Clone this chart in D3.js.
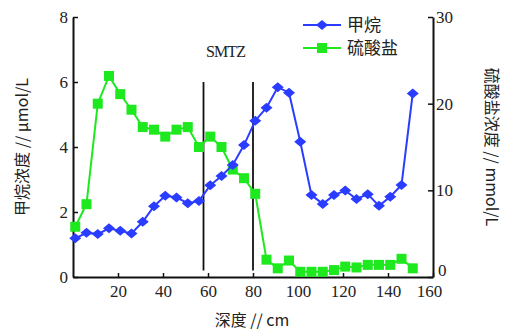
<!DOCTYPE html>
<html>
<head>
<meta charset="utf-8">
<script src="https://cdn.jsdelivr.net/npm/d3@7"></script>
<style>
  body { margin: 0; background: #fff; }
  text { font-family: "Liberation Serif", "Noto Sans CJK SC", serif; fill: #222; }
</style>
</head>
<body>
<div id="chart"></div>
<script>
// depth (cm)
const depth = [1, 6, 11, 16, 21, 26, 31, 36, 41, 46, 51, 56, 61, 66, 71, 76, 81, 86, 91, 96,
  101, 106, 111, 116, 121, 126, 131, 136, 141, 146, 151];
// methane, umol/L (left axis)
const methane = [1.19, 1.36, 1.32, 1.50, 1.42, 1.34, 1.70, 2.18, 2.50, 2.45, 2.27, 2.34, 2.82, 3.11,
  3.45, 4.06, 4.81, 5.21, 5.84, 5.67, 4.16, 2.52, 2.25, 2.52, 2.66, 2.40, 2.55, 2.19, 2.47, 2.83, 5.65];
// sulfate, mmol/L (right axis)
const sulfate = [5.8, 8.4, 20.0, 23.2, 21.1, 19.3, 17.3, 17.0, 16.2, 17.0, 17.3, 15.0, 16.2, 15.0,
  12.4, 11.4, 9.6, 2.0, 1.0, 1.9, 0.6, 0.6, 0.6, 0.8, 1.2, 1.1, 1.4, 1.4, 1.4, 2.1, 1.0];
const smtz = [58, 80];
const xTicks = [20, 40, 60, 80, 100, 120, 140, 160];
const leftTicks = [0, 2, 4, 6, 8];
const rightTicks = [0, 10, 20, 30];

const width = 507, height = 332;
const margin = {top: 17, right: 74, bottom: 55, left: 73};
const blue = "#2a3cff", green = "#1ee81e";

const svg = d3.select("#chart").append("svg")
  .attr("width", width).attr("height", height);

const x = d3.scaleLinear().domain([0, 160]).range([margin.left, width - margin.right]);
const yL = d3.scaleLinear().domain([0, 8]).range([height - margin.bottom, margin.top]);
const yR = d3.scaleLinear().domain([0, 30]).range([height - margin.bottom, margin.top]);

// axes
const gx = svg.append("g").attr("transform", `translate(0,${height - margin.bottom})`)
  .call(d3.axisBottom(x).tickValues(xTicks).tickSizeInner(-4).tickSizeOuter(0).tickPadding(8));
const gl = svg.append("g").attr("transform", `translate(${margin.left},0)`)
  .call(d3.axisLeft(yL).tickValues(leftTicks).tickSizeInner(-5).tickSizeOuter(0).tickPadding(4));
const gr = svg.append("g").attr("transform", `translate(${width - margin.right},0)`)
  .call(d3.axisRight(yR).tickValues(rightTicks).tickSizeInner(-5).tickSizeOuter(0).tickPadding(3));

[gx, gl, gr].forEach(g => {
  g.select(".domain").attr("stroke", "#111").attr("stroke-width", 2);
  g.selectAll(".tick line").attr("stroke", "#111").attr("stroke-width", 1.5);
  g.selectAll(".tick text").attr("font-size", 17).attr("fill", "#333")
    .style("font-family", "'Liberation Serif', serif");
});
gl.selectAll(".tick text").attr("dx", -1);
// keep the "160" and the right-hand "0" apart
gx.selectAll(".tick text").filter(d => d === 160).attr("dx", -4);
gr.selectAll(".tick text").filter(d => d === 0).attr("dy", "-0.1em").attr("dx", 2);

// SMTZ lines
svg.selectAll(".smtz").data(smtz).enter().append("line")
  .attr("x1", d => x(d)).attr("x2", d => x(d))
  .attr("y1", yL(6)).attr("y2", yL(0.2))
  .attr("stroke", "#111").attr("stroke-width", 1.8);
svg.append("text").attr("x", x(68)).attr("y", 57)
  .attr("text-anchor", "middle").attr("font-size", 16).attr("textLength", 40)
  .text("SMTZ");

// sulfate series
svg.append("path").datum(depth)
  .attr("fill", "none").attr("stroke", green).attr("stroke-width", 2)
  .attr("d", d3.line().x(d => x(d)).y((d, i) => yR(sulfate[i])));
svg.selectAll(".sq").data(depth).enter().append("rect")
  .attr("x", d => x(d) - 5).attr("y", (d, i) => yR(sulfate[i]) - 5)
  .attr("width", 10).attr("height", 10).attr("fill", green);

// methane series
const diamond = (cx, cy) => `M${cx - 6},${cy}L${cx},${cy - 5}L${cx + 6},${cy}L${cx},${cy + 5}Z`;
svg.append("path").datum(depth)
  .attr("fill", "none").attr("stroke", blue).attr("stroke-width", 2)
  .attr("d", d3.line().x(d => x(d)).y((d, i) => yL(methane[i])));
svg.selectAll(".dm").data(depth).enter().append("path")
  .attr("d", (d, i) => diamond(x(d), yL(methane[i]))).attr("fill", blue);

// legend
const legend = [{name: "甲烷", color: blue, shape: "d"}, {name: "硫酸盐", color: green, shape: "s"}];
const lg = svg.selectAll(".lg").data(legend).enter().append("g")
  .attr("transform", (d, i) => `translate(303,${25 + i * 23})`);
lg.append("line").attr("x1", 0).attr("x2", 38).attr("stroke", d => d.color).attr("stroke-width", 2);
lg.append("path").attr("d", d => d.shape === "d" ? diamond(19, 0) : "M14,-5h10v10h-10Z")
  .attr("fill", d => d.color);
lg.append("text").attr("x", 44).attr("y", 6).attr("font-size", 17)
  .style("font-family", "'Noto Sans CJK SC', sans-serif").attr("fill", "#333")
  .text(d => d.name);

// axis titles
svg.append("text").attr("transform", `translate(28,${yL(4)}) rotate(-90)`)
  .attr("text-anchor", "middle").attr("font-size", 16).attr("fill", "#333")
  .style("font-family", "'Noto Sans CJK SC', sans-serif")
  .text("甲烷浓度 // μmol/L");
svg.append("text").attr("transform", `translate(486,${yR(15)}) rotate(90)`)
  .attr("text-anchor", "middle").attr("font-size", 16).attr("fill", "#333")
  .style("font-family", "'Noto Sans CJK SC', sans-serif")
  .text("硫酸盐浓度 // mmol/L");
svg.append("text").attr("x", 252).attr("y", 326)
  .attr("text-anchor", "middle").attr("font-size", 16).attr("fill", "#333")
  .style("font-family", "'Noto Sans CJK SC', sans-serif")
  .text("深度 // cm");
</script>
</body>
</html>
